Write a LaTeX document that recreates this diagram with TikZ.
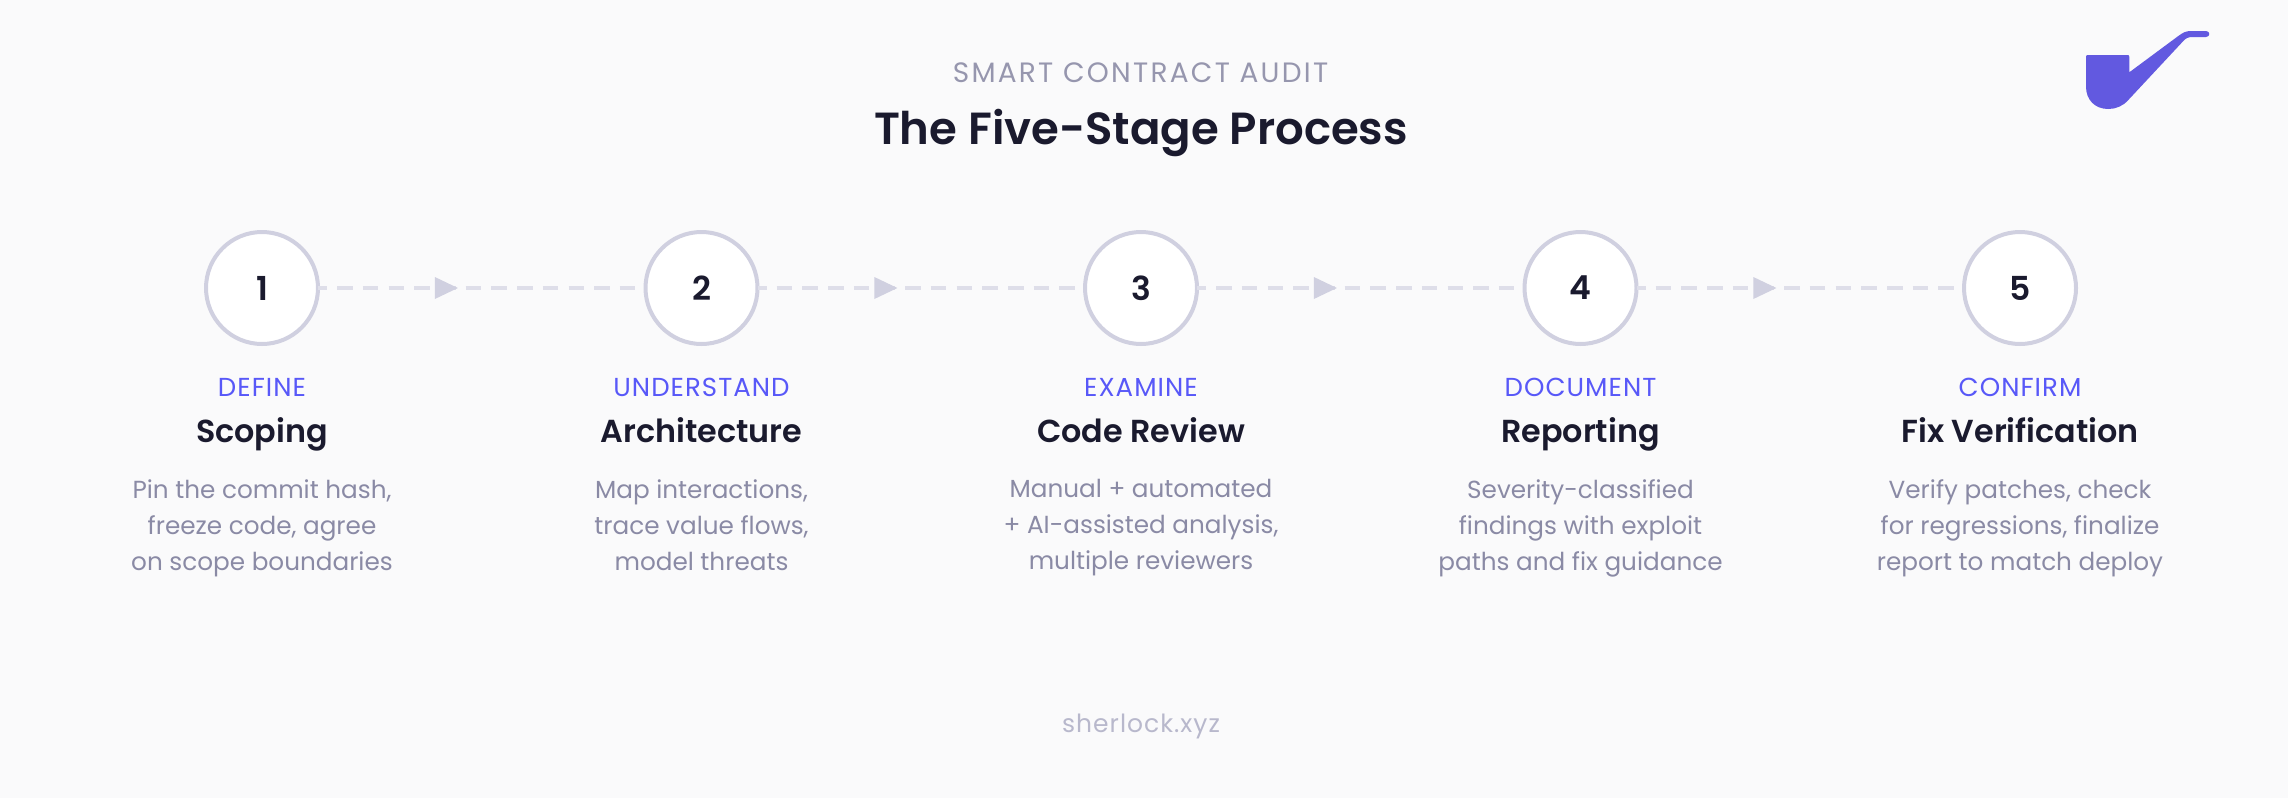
\documentclass[tikz,border=0pt]{standalone}
\usepackage{xcolor}
\usepackage{fontspec}
\usepackage{tikz}
\usetikzlibrary{shapes.geometric,positioning}
\setmainfont{Poppins}
\newfontfamily\medfont{Poppins SemiBold}
\newfontfamily\spacedfont[LetterSpace=4]{Poppins}
\newfontfamily\widefont[LetterSpace=8]{Poppins}
\definecolor{paper}{HTML}{FAFAFB}
\definecolor{ink}{HTML}{1A1A2E}
\definecolor{ring}{HTML}{D0D0E0}
\definecolor{dashline}{HTML}{DEDEE9}
\definecolor{accent}{HTML}{5858F8}
\definecolor{muted}{HTML}{8A8AA5}
\definecolor{soft}{HTML}{9696AE}
\definecolor{faint}{HTML}{B8B8CC}
\definecolor{pipe}{HTML}{6259E0}

\begin{document}
\begin{tikzpicture}[x=1pt, y=-1pt, every node/.style={inner sep=0pt, outer sep=0pt}]
    \tikzstyle{stage} = [circle, draw=ring, line width=4pt, fill=white, minimum size=112pt,
        text=ink, font=\medfont\fontsize{33}{40}\selectfont]
    \tikzstyle{phase} = [text=accent, text height=20pt, text depth=6pt,
        font=\spacedfont\fontsize{26}{30}\selectfont]
    \tikzstyle{heading} = [text=ink, text height=28pt, text depth=8pt,
        font=\medfont\fontsize{31.8}{38}\selectfont]
    \tikzstyle{blurb} = [text=muted, align=center,
        font=\fontsize{24.7}{36}\selectfont]
    \tikzstyle{flow} = [draw=dashline, line width=4pt, dash pattern=on 15.5pt off 10.2pt, dash phase=6.5pt]
    \tikzstyle{tip} = [isosceles triangle, isosceles triangle stretches, fill=ring,
        minimum width=22pt, minimum height=23pt]

    \fill [paper] (0,0) rectangle (2288,798);

    \node (kicker) [text=soft, font=\widefont\fontsize{28}{30}\selectfont, anchor=base] at (1140.5,82.7) {SMART CONTRACT AUDIT};
    \node (title) [text=ink, font=\medfont\fontsize{45}{54}\selectfont, anchor=base] at (1141,144.3) {The Five-Stage Process};
    \node (footer) [text=faint, font=\spacedfont\fontsize{25}{28}\selectfont, anchor=base] at (1141,732) {sherlock.xyz};

    \node (s1) [stage] at (262,288) {1};
    \node (s2) [stage, right=327.5pt of s1] {2};
    \node (s3) [stage, right=327.5pt of s2] {3};
    \node (s4) [stage, right=327.5pt of s3] {4};
    \node (s5) [stage, right=327.5pt of s4] {5};

    \node (p1) [phase, below=32pt of s1] {DEFINE};
    \node (p2) [phase, below=32pt of s2] {UNDERSTAND};
    \node (p3) [phase, below=32pt of s3] {EXAMINE};
    \node (p4) [phase, below=32pt of s4] {DOCUMENT};
    \node (p5) [phase, below=32pt of s5] {CONFIRM};

    \node (h1) [heading, below=12.7pt of p1] {Scoping};
    \node (h2) [heading, below=12.7pt of p2] {Architecture};
    \node (h3) [heading, below=12.7pt of p3] {Code Review};
    \node (h4) [heading, below=12.7pt of p4] {Reporting};
    \node (h5) [heading, below=12.7pt of p5] {Fix Verification};

    \node (b1) [blurb, below=28.8pt of h1] {Pin the commit hash,\\freeze code, agree\\on scope boundaries};
    \node (b2) [blurb, below=28.8pt of h2] {Map interactions,\\trace value flows,\\model threats};
    \node (b3) [blurb, below=28.8pt of h3] {Manual + automated\\+ AI-assisted analysis,\\multiple reviewers};
    \node (b4) [blurb, below=28.8pt of h4] {Severity-classified\\findings with exploit\\paths and fix guidance};
    \node (b5) [blurb, below=28.8pt of h5] {Verify patches, check\\for regressions, finalize\\report to match deploy};

    \draw [flow] (s1) -- (s2) node (t1) [tip, pos=0.378, draw=none] {};
    \draw [flow] (s2) -- (s3) node (t2) [tip, pos=0.378, draw=none] {};
    \draw [flow] (s3) -- (s4) node (t3) [tip, pos=0.378, draw=none] {};
    \draw [flow] (s4) -- (s5) node (t4) [tip, pos=0.378, draw=none] {};

    % pipe mark
    \fill [pipe] (2088,55) -- (2127.5,55) .. controls (2128.8,55) and (2129.3,55.5) .. (2129.3,57)
        -- (2129.3,72.3) -- (2178.3,36) .. controls (2183,32.5) and (2186,31) .. (2191,31)
        -- (2206,31) .. controls (2210.3,31) and (2210.3,37) .. (2206,37)
        -- (2192.5,37) .. controls (2188.5,37) and (2186,38) .. (2183.3,41)
        -- (2128.3,100) .. controls (2123,106) and (2116,109) .. (2108.3,109)
        .. controls (2095,109) and (2086,100) .. (2086,86.7)
        -- (2086,57) .. controls (2086,55.5) and (2086.5,55) .. (2088,55) -- cycle;
\end{tikzpicture}
\end{document}
